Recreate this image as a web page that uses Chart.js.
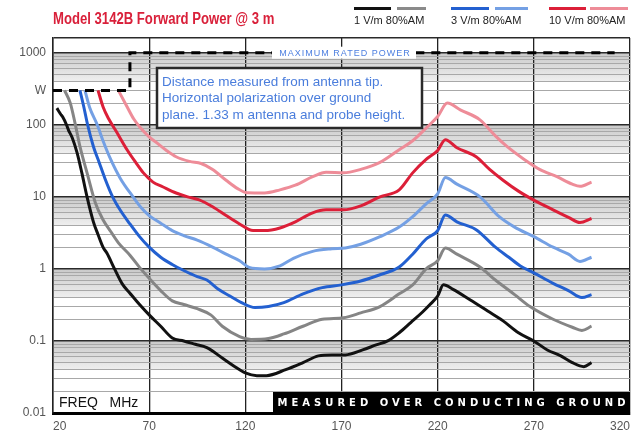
<!DOCTYPE html>
<html>
<head>
<meta charset="utf-8">
<script src="https://cdn.jsdelivr.net/npm/chart.js@4.4.1/dist/chart.umd.min.js"></script>
<style>
  html, body { margin: 0; padding: 0; background: #fff; }
  #wrap { position: relative; width: 642px; height: 437px; overflow: hidden; }
  #chart { position: absolute; left: 0; top: 0; }
  .title { position: absolute; left: 53px; top: 10px; font: bold 16px "Liberation Sans", Arial, sans-serif; color: #d9203a; white-space: nowrap; transform: scaleX(0.82); transform-origin: 0 0; }
  .bar { position: absolute; top: 7px; height: 3px; }
  .leg { position: absolute; top: 14px; font: 11px "Liberation Sans", Arial, sans-serif; color: #222; white-space: nowrap; }
</style>
</head>
<body>
<div id="wrap">
  <canvas id="chart" width="642" height="437"></canvas>
  <div class="title">Model 3142B Forward Power @ 3 m</div>
  <div class="bar" style="left:354px;width:37px;background:#111"></div>
  <div class="bar" style="left:397px;width:29px;background:#8a8a8a"></div>
  <div class="leg" style="left:354px">1 V/m 80%AM</div>
  <div class="bar" style="left:451px;width:38px;background:#2360d0"></div>
  <div class="bar" style="left:495px;width:33px;background:#74a0e4"></div>
  <div class="leg" style="left:451px">3 V/m 80%AM</div>
  <div class="bar" style="left:549px;width:37px;background:#dc1f38"></div>
  <div class="bar" style="left:590px;width:38px;background:#ee8c98"></div>
  <div class="leg" style="left:549px">10 V/m 80%AM</div>
</div>
<script>
// frequency ticks (MHz) and power decades (W)
const freqTicks = [20, 70, 120, 170, 220, 270, 320];
const decades = [0.01, 0.1, 1, 10, 100, 1000];
const yMax = 1600;

// 1 V/m CW
const f1 = [22, 24, 25, 27, 28, 30, 32.5, 35, 37.7, 41, 43.4, 46, 48, 52, 56, 60, 65, 70, 76, 82, 88, 94, 100, 108, 114, 120, 126, 131, 141, 150, 158, 165, 172, 181, 188, 194, 200, 206, 212, 216, 220, 223, 228, 237, 246, 254, 262, 270, 277, 284, 290, 296, 300];
const p1 = [170, 140, 129, 100, 85, 66, 41, 21.5, 10, 4.5, 3.0, 2.0, 1.66, 1.0, 0.62, 0.46, 0.32, 0.23, 0.16, 0.11, 0.1, 0.09, 0.081, 0.058, 0.045, 0.036, 0.033, 0.033, 0.04, 0.05, 0.062, 0.064, 0.064, 0.075, 0.088, 0.1, 0.13, 0.18, 0.25, 0.32, 0.42, 0.6, 0.52, 0.37, 0.26, 0.19, 0.13, 0.1, 0.075, 0.062, 0.05, 0.044, 0.05];
// 1 V/m 80% AM
const f1am = [26, 29, 31.4, 34, 37.7, 42, 46, 50, 54, 60, 65, 70, 76, 82, 88, 95, 102, 108, 117, 123, 132, 140, 150, 160, 171, 180, 190, 200, 207, 214, 220, 224, 230, 242, 250, 260, 268, 280, 290, 295, 300];
const p1am = [300, 200, 107, 50, 21.5, 8.3, 4.8, 3.3, 2.3, 1.55, 1.05, 0.74, 0.5, 0.36, 0.32, 0.28, 0.23, 0.16, 0.115, 0.105, 0.108, 0.125, 0.16, 0.2, 0.21, 0.245, 0.3, 0.45, 0.6, 1.0, 1.3, 1.95, 1.6, 1.06, 0.7, 0.44, 0.3, 0.2, 0.155, 0.14, 0.16];
// 3 V/m CW
const f3 = [34, 36, 38, 41, 44, 47, 51, 55, 60, 65, 70, 76, 82, 88, 95, 100, 106, 112, 118, 125, 132, 140, 150, 160, 170, 180, 190, 200, 207, 214, 220, 224, 230, 240, 250, 257, 263, 270, 280, 288, 295, 300];
const p3 = [300, 178, 100, 50, 30, 18, 10, 6.5, 4.2, 2.8, 2.0, 1.45, 1.15, 0.95, 0.78, 0.7, 0.52, 0.42, 0.34, 0.29, 0.3, 0.34, 0.45, 0.55, 0.6, 0.68, 0.83, 1.06, 1.6, 2.6, 3.4, 5.6, 4.5, 3.5, 2.0, 1.45, 1.1, 0.88, 0.63, 0.5, 0.4, 0.44];
// 3 V/m 80% AM
const f3am = [36.6, 39, 43, 46, 50, 55, 61.6, 66, 70, 76, 82, 88, 95, 103, 110, 117, 122, 130, 138, 145, 155, 165, 172, 180, 190, 200, 207, 214, 220, 224, 230, 242, 252, 260, 270, 280, 288, 294, 300];
const p3am = [300, 175, 100, 60, 33, 18, 10, 7, 5.5, 4.3, 3.4, 2.9, 2.5, 2.0, 1.6, 1.3, 1.05, 1.0, 1.1, 1.4, 1.75, 1.9, 1.95, 2.2, 2.8, 3.8, 5.3, 8, 11, 18.5, 15, 10, 5.3, 3.8, 2.8, 2.0, 1.6, 1.27, 1.45];
// 10 V/m CW
const f10 = [43.4, 46, 49, 53, 58.5, 63, 67, 72, 77, 84, 90, 96, 103, 110, 117, 124, 130, 138, 146, 155, 162, 171, 180, 190, 200, 207, 214, 220, 224, 230, 240, 247, 254, 262, 270, 280, 288, 294, 300];
const p10 = [300, 178, 120, 80, 45, 30, 21.5, 16, 13.8, 11.3, 10, 9.1, 7.3, 5.5, 4.2, 3.4, 3.4, 3.7, 4.5, 6.0, 6.6, 6.6, 7.5, 10, 12.5, 21.5, 33, 44, 62, 48, 36, 24, 17, 12, 9, 6.6, 5.2, 4.4, 5];
// 10 V/m 80% AM
const f10am = [54, 58.5, 62, 65, 70, 74, 79, 84, 91, 97, 103, 110, 116, 121, 130, 138, 146, 155, 162, 171, 180, 190, 200, 207, 214, 220, 225, 232, 242, 250, 256, 265, 273, 282, 290, 294, 300];
const p10am = [300, 178, 120, 94, 68, 56, 44, 36, 31, 29, 24, 17, 13, 11.4, 11.3, 12.5, 14.5, 19, 22, 21.5, 24, 30, 45, 60, 90, 130, 200, 160, 117, 70, 50, 33, 24, 19, 15, 14, 16];
// maximum rated power
const fMax = [20, 60, 60, 312];
const pMax = [300, 300, 1000, 1000];

function pts(f, p) { return f.map((x, i) => ({ x: x, y: p[i] })); }

function curve(f, p, color) {
    return {
        data: pts(f, p),
        borderColor: color,
        borderWidth: 3,
        pointRadius: 0,
        cubicInterpolationMode: 'monotone',
        fill: false
    };
}

function isDecade(v) {
    const l = Math.log10(v);
    return Math.abs(l - Math.round(l)) < 1e-6;
}

// grey bands under each decade line + notes
const extras = {
    id: 'extras',
    beforeDraw(chart) {
        const { ctx, chartArea: a, scales: { y } } = chart;
        ctx.save();
        ctx.beginPath();
        ctx.rect(a.left, a.top, a.right - a.left, a.bottom - a.top);
        ctx.clip();
        decades.forEach(d => {
            const top = y.getPixelForValue(d);
            const bot = y.getPixelForValue(d * 0.4);
            const g = ctx.createLinearGradient(0, top, 0, bot);
            g.addColorStop(0, '#c9c9c9');
            g.addColorStop(1, '#efefef');
            ctx.fillStyle = g;
            ctx.fillRect(a.left, top, a.right - a.left, bot - top);
        });
        ctx.restore();
    },
    afterDatasetsDraw(chart) {
        const { ctx, chartArea: a, scales: { x, y } } = chart;
        ctx.save();
        // max rated power label
        const ym = y.getPixelForValue(1000);
        ctx.fillStyle = '#fff';
        ctx.fillRect(272, ym - 6, 144, 12);
        ctx.fillStyle = '#4d7fe0';
        ctx.font = '9px "Liberation Sans", Arial, sans-serif';
        ctx.textAlign = 'center';
        ctx.textBaseline = 'middle';
        ctx.letterSpacing = '1px';
        ctx.fillText('MAXIMUM RATED POWER', 345, ym + 0.5);
        ctx.letterSpacing = '0px';

        // note box
        ctx.fillStyle = '#fff';
        ctx.fillRect(157, 68, 265, 60);
        ctx.strokeStyle = '#2a2a2a';
        ctx.lineWidth = 2.5;
        ctx.strokeRect(157, 68, 265, 60);
        ctx.fillStyle = '#4a7ddc';
        ctx.font = '13.5px "Liberation Sans", Arial, sans-serif';
        ctx.textAlign = 'left';
        ctx.fillText('Distance measured from antenna tip.', 162, 82);
        ctx.fillText('Horizontal polarization over ground', 162, 98);
        ctx.fillText('plane. 1.33 m antenna and probe height.', 162, 115);

        // FREQ MHz
        ctx.fillStyle = '#111';
        ctx.font = '14px "Liberation Sans", Arial, sans-serif';
        ctx.fillText('FREQ   MHz', a.left + 6, a.bottom - 10);

        // measured over conducting ground
        ctx.fillStyle = '#000';
        ctx.fillRect(273, a.bottom - 21, a.right - 273, 21);
        ctx.fillStyle = '#fff';
        ctx.font = 'bold 10px "DejaVu Sans", sans-serif';
        ctx.textAlign = 'center';
        ctx.letterSpacing = '4px';
        ctx.fillText('MEASURED OVER CONDUCTING GROUND', (273 + a.right) / 2 + 2, a.bottom - 10);
        ctx.restore();
    }
};

new Chart(document.getElementById('chart'), {
    type: 'line',
    data: {
        datasets: [
            Object.assign(curve(fMax, pMax, '#000'), { borderDash: [9, 7], cubicInterpolationMode: 'default', tension: 0 }),
            curve(f1, p1, '#111111'),
            curve(f1am, p1am, '#858585'),
            curve(f3, p3, '#2360d0'),
            curve(f3am, p3am, '#74a0e4'),
            curve(f10, p10, '#dc1f38'),
            curve(f10am, p10am, '#ee8c98')
        ]
    },
    options: {
        responsive: false,
        animation: false,
        layout: { padding: { top: 38, right: 12, left: 0, bottom: 0 } },
        plugins: { legend: { display: false }, tooltip: { enabled: false } },
        scales: {
            x: {
                type: 'linear',
                min: 20,
                max: 320,
                afterBuildTicks: s => { s.ticks = freqTicks.map(v => ({ value: v })); },
                afterFit: s => { s.height = 24; },
                ticks: { align: 'inner', padding: 6, color: '#555', font: { family: 'Liberation Sans', size: 12 } },
                grid: { color: '#222', lineWidth: 1.3, drawTicks: false },
                border: { color: '#000', width: 3 }
            },
            y: {
                type: 'logarithmic',
                min: 0.01,
                max: yMax,
                afterBuildTicks: s => {
                    const t = [];
                    decades.forEach(d => {
                        for (let k = 1; k <= 9; k++) {
                            const v = +(d * k).toPrecision(3);
                            if (v <= yMax) t.push({ value: v });
                        }
                    });
                    t.push({ value: yMax });
                    s.ticks = t;
                },
                afterFit: s => { s.width = 53; },
                ticks: {
                    autoSkip: false,
                    padding: 7,
                    color: '#555',
                    font: { family: 'Liberation Sans', size: 12 },
                    callback: v => {
                        if (v === 300) return 'W';
                        if (v === yMax) return '';
                        return isDecade(v) ? String(v) : '';
                    }
                },
                grid: {
                    drawTicks: false,
                    color: c => (c.tick.value === yMax || isDecade(c.tick.value)) ? '#2a2a2a' : '#a8a8a8',
                    lineWidth: c => (c.tick.value === yMax || isDecade(c.tick.value)) ? 1.5 : 1
                },
                border: { color: '#222', width: 1.5 }
            }
        }
    },
    plugins: [extras]
});
</script>
</body>
</html>
